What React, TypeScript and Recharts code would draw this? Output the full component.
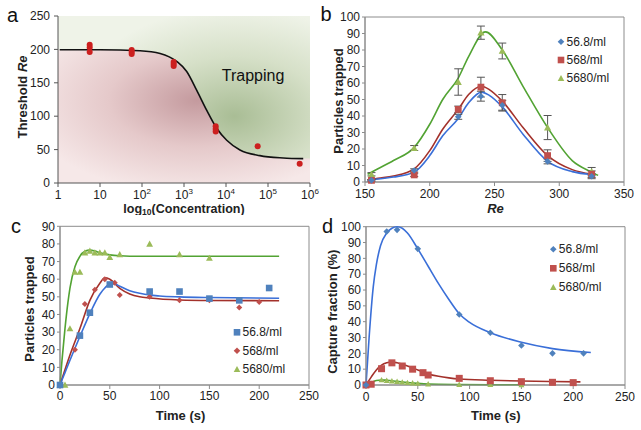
import {
  ComposedChart,
  Line,
  Area,
  Scatter,
  XAxis,
  YAxis,
  ReferenceArea,
  ErrorBar,
  CartesianGrid,
} from "recharts";

const FONT = "'Liberation Sans', Arial, sans-serif";
const BLUE = "#4f81bd";
const RED = "#c0504d";
const GREEN = "#9bbb59";
const BLUE_FIT = "#3a6fd8";
const RED_FIT = "#a3312b";
const GREEN_FIT = "#52a333";
const FRAME = "#8c8c8c";
const INK = "#222";

const legendLabels = ["56.8/ml", "568/ml", "5680/ml"];

// panel a: threshold Re vs concentration
const concA = [5.68, 5.68, 5.68, 56.8, 56.8, 56.8, 568, 568, 568, 5680, 5680, 5680, 56800, 568000];
const thresholdA = [207, 203, 196, 199, 196, 193, 181, 178, 175, 85, 81, 77, 55, 29];
const fitConcA = [1.1, 10, 90, 270, 670, 1160, 2000, 3460, 6000, 10400, 21500, 64000, 230000, 690000];
const fitReA = [199.5, 199.5, 198, 194, 182, 167, 139, 109, 82, 64, 49.5, 41, 37.5, 36.5];
const xTicksA = [1, 10, 100, 1000, 10000, 100000, 1000000];
const yTicksA = [0, 50, 100, 150, 200, 250];

// panel b: particles trapped vs Re
const reB = [155, 188, 222, 239.5, 256, 291, 325];
const blueB = [1, 7, 39.5, 52, 46.5, 12.5, 3.5];
const blueErrB = [0.5, 1, 1.5, 3, 3, 1.5, 1.5];
const redB = [1, 4.3, 44, 57.5, 48, 16, 4.7];
const redErrB = [0.5, 1, 2, 6, 5, 3.5, 2];
const greenB = [4.7, 20.6, 60.6, 90.5, 79.4, 33, 6.3];
const greenErrB = [1, 1.5, 8, 4, 4.8, 7.3, 2.5];
const fitReB = [152, 160, 172, 188, 200, 210, 222, 230, 240, 246, 256, 272, 291, 310, 325];
const blueFitB = [0.8, 1.8, 3, 6, 16, 28, 38.5, 48, 54.5, 52.5, 45.5, 29, 12.5, 6.3, 4.5];
const redFitB = [1.2, 2.2, 3.6, 8, 19, 32, 44, 53, 58, 56, 49, 33, 16, 7.5, 4.8];
const fitReGreenB = [152, 160, 172, 188, 200, 210, 222, 230, 243, 256, 272, 291, 310, 325, 330];
const greenFitB = [4.7, 8, 13, 21, 35, 50, 63, 76, 91, 80, 58, 33, 13, 6, 4];
const xTicksB = [150, 200, 250, 300, 350];
const yTicksB = [0, 10, 20, 30, 40, 50, 60, 70, 80, 90, 100];

// panel c: particles trapped vs time
const timeBlueC = [0, 20, 30, 50, 90, 120, 150, 180, 210];
const blueC = [0, 28, 41, 57, 53, 53, 49, 48, 55];
const timeRedC = [0, 15, 25, 35, 45, 55, 60, 90, 120, 150, 180, 200];
const redC = [0, 20, 46, 54, 60, 58, 51, 50, 48, 48, 44, 47];
const timeGreenC = [0, 5, 10, 15, 20, 25, 30, 35, 40, 45, 50, 60, 90, 120, 150];
const greenC = [0, 0, 32, 64, 64, 75, 76, 75, 75, 75, 72.5, 74, 80, 74, 72];
const fitTimeBlueC = [0, 5, 10, 20, 30, 40, 45, 50, 55, 60, 70, 80, 90, 100, 120, 150, 220];
const blueFitC = [0, 7, 14, 27.5, 40.5, 51.5, 55, 57.3, 57.3, 56, 53.5, 52, 51, 50.5, 50, 49.6, 49.2];
const fitTimeRedC = [0, 10, 20, 30, 40, 45, 50, 60, 70, 80, 90, 120, 150, 220];
const redFitC = [0, 17, 32, 48, 57.7, 60.8, 60, 54.8, 51.6, 50, 49.3, 48.2, 47.9, 47.8];
const fitTimeGreenC = [0, 2, 5, 8, 10, 15, 20, 25, 30, 35, 40, 50, 60, 80, 120, 220];
const greenFitC = [0, 14, 32, 47, 55, 67, 73, 75.8, 76.5, 76, 75, 73.8, 73.3, 73, 73, 73];
const xTicksTime = [0, 50, 100, 150, 200, 250];
const yTicksC = [0, 10, 20, 30, 40, 50, 60, 70, 80, 90];

// panel d: capture fraction vs time
const timeBlueD = [0, 20, 30, 50, 90, 120, 150, 180, 210];
const blueD = [0, 97, 98, 86, 44.5, 33, 25, 20, 20];
const timeRedD = [0, 5, 15, 25, 35, 45, 55, 60, 90, 120, 150, 180, 200];
const redD = [0, 0.5, 10.3, 14, 12, 10, 7.8, 6.3, 4.2, 2.7, 2.1, 1.7, 1.5];
const timeGreenD = [0, 5, 15, 20, 25, 30, 35, 40, 45, 50, 60, 90, 120, 150];
const greenD = [0, 0.5, 3.2, 2.8, 2.5, 2.2, 1.8, 1.5, 1.2, 1.0, 0.6, 0.3, 0.2, 0.1];
const fitTimeBlueD = [0, 3, 7, 10, 14, 20, 25, 30, 35, 40, 50, 60, 70, 80, 90, 100, 120, 150, 180, 217];
const blueFitD = [0, 30, 62, 76, 88, 96, 99, 100, 99, 96, 86, 75, 64, 54, 45, 39.5, 33, 27, 23, 20.5];
const fitTimeRedD = [0, 5, 10, 15, 20, 25, 30, 40, 50, 60, 70, 80, 90, 120, 150, 180, 207];
const redFitD = [0, 5, 9.5, 12.5, 14, 14.5, 14, 12, 9.5, 7, 5.5, 4.5, 3.8, 3, 2.5, 2.2, 2];
const fitTimeGreenD = [0, 5, 10, 15, 20, 30, 40, 50, 60, 90, 120, 150];
const greenFitD = [0, 1.5, 2.8, 3.2, 3, 2.3, 1.6, 1, 0.6, 0.3, 0.2, 0.2];
const yTicksD = [0, 10, 20, 30, 40, 50, 60, 70, 80, 90, 100];

const pts = (xs: number[], ys: number[], es?: number[]) =>
  xs.map((x, i) => ({ x, y: ys[i], e: es ? es[i] : 0 }));

function mark(kind: string, fill: string, s: number, cx: number, cy: number) {
  if (kind === "square")
    return <rect x={cx - s} y={cy - s} width={2 * s} height={2 * s} fill={fill} />;
  if (kind === "diamond")
    return (
      <polygon
        points={`${cx},${cy - s} ${cx + s},${cy} ${cx},${cy + s} ${cx - s},${cy}`}
        fill={fill}
      />
    );
  if (kind === "triangle")
    return (
      <polygon
        points={`${cx},${cy - s} ${cx + s},${cy + s * 0.8} ${cx - s},${cy + s * 0.8}`}
        fill={fill}
      />
    );
  return <circle cx={cx} cy={cy} r={s} fill={fill} />;
}

const shape = (kind: string, fill: string, s: number) => (p: any) =>
  mark(kind, fill, s, p.cx, p.cy);

const tickStyle = { fontSize: 12, fill: INK, fontFamily: FONT };

function Legend3({ x, y, kinds, gap }: { x: number; y: number; kinds: string[]; gap: number }) {
  const colors = [BLUE, RED, GREEN];
  return (
    <g>
      {legendLabels.map((lab, i) => (
        <g key={lab}>
          {mark(kinds[i], colors[i], 3.3, x, y + i * gap)}
          <text
            x={x + 5.5}
            y={y + i * gap}
            dominantBaseline="central"
            fontSize={12}
            fontFamily={FONT}
            fill={INK}
          >
            {lab}
          </text>
        </g>
      ))}
    </g>
  );
}

function YTitle({ x, y, children }: { x: number; y: number; children: any }) {
  return (
    <text
      x={x}
      y={y}
      transform={`rotate(-90, ${x}, ${y})`}
      textAnchor="middle"
      dominantBaseline="central"
      fontSize={13}
      fontWeight="bold"
      fontFamily={FONT}
      fill={INK}
    >
      {children}
    </text>
  );
}

function XTitle({ x, y, size = 13, children }: { x: number; y: number; size?: number; children: any }) {
  return (
    <text
      x={x}
      y={y}
      textAnchor="middle"
      dominantBaseline="central"
      fontSize={size}
      fontWeight="bold"
      fontFamily={FONT}
      fill={INK}
    >
      {children}
    </text>
  );
}

function PanelLetter({ x, y, t }: { x: number; y: number; t: string }) {
  return (
    <text x={x} y={y} fontSize={20} fontFamily={FONT} fill="#111">
      {t}
    </text>
  );
}

const DecadeTick = (p: any) => {
  const v = p.payload.value;
  const e = Math.round(Math.log10(v));
  return (
    <text x={p.x} y={p.y} dy={10} textAnchor="middle" fontSize={12} fill={INK} fontFamily={FONT}>
      {e < 2 ? String(v) : (
        <>
          10<tspan dy={-5} fontSize={8}>{e}</tspan>
        </>
      )}
    </text>
  );
};

function PanelA() {
  const dots = pts(concA, thresholdA);
  const fit = pts(fitConcA, fitReA);
  const shade = [{ x: 1, y: fitReA[0] }, ...fit, { x: 1000000, y: fitReA[fitReA.length - 1] }];
  return (
    <ComposedChart width={320} height={215} margin={{ top: 16, right: 10, bottom: 0, left: 0 }}>
      <defs>
        <radialGradient id="trapBg" cx="0.7" cy="0.6" r="0.65">
          <stop offset="0" stopColor="#a9bd95" />
          <stop offset="0.55" stopColor="#d6e0c8" />
          <stop offset="1" stopColor="#eff3e8" />
        </radialGradient>
        <radialGradient id="passBg" cx="0.55" cy="0.38" r="0.7">
          <stop offset="0" stopColor="#c49a9e" />
          <stop offset="0.5" stopColor="#e5c9ca" />
          <stop offset="1" stopColor="#f6e8e8" />
        </radialGradient>
      </defs>
      <CartesianGrid horizontal={false} vertical={false} fill="url(#trapBg)" />
      <XAxis
        dataKey="x"
        type="number"
        scale="log"
        domain={[1, 1000000]}
        ticks={xTicksA}
        interval={0}
        tick={DecadeTick}
        height={32}
        tickSize={4}
        tickMargin={2}
        axisLine={{ stroke: "#555" }}
        tickLine={{ stroke: "#555" }}
        allowDataOverflow
      />
      <YAxis
        type="number"
        domain={[0, 250]}
        ticks={yTicksA}
        interval={0}
        width={58}
        tick={tickStyle}
        tickSize={4}
        tickMargin={4}
        axisLine={{ stroke: "#555" }}
        tickLine={{ stroke: "#555" }}
      />
      <Area
        data={shade}
        dataKey="y"
        type="monotone"
        fill="url(#passBg)"
        fillOpacity={1}
        stroke="none"
        isAnimationActive={false}
      />
      <Line
        data={fit}
        dataKey="y"
        type="monotone"
        stroke="#111"
        strokeWidth={1.6}
        dot={false}
        isAnimationActive={false}
      />
      <Scatter data={dots} dataKey="y" shape={shape("circle", "#cc1f1f", 3)} isAnimationActive={false} />
      <text x={253} y={75} textAnchor="middle" dominantBaseline="central" fontSize={16} fontFamily={FONT} fill="#111">
        Trapping
      </text>
      <text x={123} y={124} textAnchor="middle" dominantBaseline="central" fontSize={16} fontFamily={FONT} fill="#111">
        Passing
      </text>
      <YTitle x={22} y={97}>
        Threshold <tspan fontStyle="italic">Re</tspan>
      </YTitle>
      <XTitle x={184} y={208.5} size={12.5}>
        log<tspan dy={3} fontSize={8.5}>10</tspan>
        <tspan dy={-3}>(Concentration)</tspan>
      </XTitle>
      <PanelLetter x={7} y={21.7} t="a" />
    </ComposedChart>
  );
}

function PanelB() {
  return (
    <ComposedChart width={321} height={215} margin={{ top: 17, right: 17, bottom: 0, left: 0 }}>
      <XAxis
        dataKey="x"
        type="number"
        domain={[150, 350]}
        ticks={xTicksB}
        interval={0}
        height={33}
        tick={tickStyle}
        tickSize={4}
        tickMargin={3}
        axisLine={{ stroke: FRAME }}
        tickLine={{ stroke: FRAME }}
      />
      <YAxis
        type="number"
        domain={[0, 100]}
        ticks={yTicksB}
        interval={0}
        width={45}
        tick={tickStyle}
        tickSize={3}
        tickMargin={2}
        axisLine={{ stroke: FRAME }}
        tickLine={{ stroke: FRAME }}
      />
      <ReferenceArea x1={150} x2={350} y1={0} y2={100} fill="none" stroke={FRAME} />
      <Line data={pts(fitReGreenB, greenFitB)} dataKey="y" type="monotone" stroke={GREEN_FIT} strokeWidth={1.6} dot={false} isAnimationActive={false} />
      <Line data={pts(fitReB, redFitB)} dataKey="y" type="monotone" stroke={RED_FIT} strokeWidth={1.6} dot={false} isAnimationActive={false} />
      <Line data={pts(fitReB, blueFitB)} dataKey="y" type="monotone" stroke={BLUE_FIT} strokeWidth={1.6} dot={false} isAnimationActive={false} />
      <Scatter data={pts(reB, greenB, greenErrB)} dataKey="y" shape={shape("triangle", GREEN, 3.6)} isAnimationActive={false}>
        <ErrorBar dataKey="e" direction="y" width={4} stroke="#555" strokeWidth={1} />
      </Scatter>
      <Scatter data={pts(reB, redB, redErrB)} dataKey="y" shape={shape("square", RED, 3.4)} isAnimationActive={false}>
        <ErrorBar dataKey="e" direction="y" width={4} stroke="#555" strokeWidth={1} />
      </Scatter>
      <Scatter data={pts(reB, blueB, blueErrB)} dataKey="y" shape={shape("diamond", BLUE, 3.3)} isAnimationActive={false}>
        <ErrorBar dataKey="e" direction="y" width={4} stroke="#555" strokeWidth={1} />
      </Scatter>
      <Legend3 x={241} y={41.7} kinds={["diamond", "square", "triangle"]} gap={18.3} />
      <YTitle x={18} y={101}>Particles trapped</YTitle>
      <XTitle x={175.5} y={207.5}>
        <tspan fontStyle="italic">Re</tspan>
      </XTitle>
      <PanelLetter x={0.5} y={20.7} t="b" />
    </ComposedChart>
  );
}

function PanelC() {
  return (
    <ComposedChart width={320} height={215} margin={{ top: 11.3, right: 11, bottom: 0, left: 0 }}>
      <XAxis
        dataKey="x"
        type="number"
        domain={[0, 250]}
        ticks={xTicksTime}
        interval={0}
        height={45}
        tick={tickStyle}
        tickSize={4}
        tickMargin={2}
        axisLine={{ stroke: FRAME }}
        tickLine={{ stroke: FRAME }}
      />
      <YAxis
        type="number"
        domain={[0, 90]}
        ticks={yTicksC}
        interval={0}
        width={60}
        tick={tickStyle}
        tickSize={3}
        tickMargin={2}
        axisLine={{ stroke: FRAME }}
        tickLine={{ stroke: FRAME }}
      />
      <ReferenceArea x1={0} x2={250} y1={0} y2={90} fill="none" stroke={FRAME} />
      <Line data={pts(fitTimeGreenC, greenFitC)} dataKey="y" type="monotone" stroke={GREEN_FIT} strokeWidth={1.6} dot={false} isAnimationActive={false} />
      <Line data={pts(fitTimeRedC, redFitC)} dataKey="y" type="monotone" stroke={RED_FIT} strokeWidth={1.6} dot={false} isAnimationActive={false} />
      <Line data={pts(fitTimeBlueC, blueFitC)} dataKey="y" type="monotone" stroke={BLUE_FIT} strokeWidth={1.6} dot={false} isAnimationActive={false} />
      <Scatter data={pts(timeGreenC, greenC)} dataKey="y" shape={shape("triangle", GREEN, 3.4)} isAnimationActive={false} />
      <Scatter data={pts(timeRedC, redC)} dataKey="y" shape={shape("diamond", RED, 3)} isAnimationActive={false} />
      <Scatter data={pts(timeBlueC, blueC)} dataKey="y" shape={shape("square", BLUE, 3.3)} isAnimationActive={false} />
      <Legend3 x={237} y={117.3} kinds={["square", "diamond", "triangle"]} gap={18.5} />
      <YTitle x={29} y={94}>Particles trapped</YTitle>
      <XTitle x={180.5} y={200}>Time (s)</XTitle>
      <PanelLetter x={11} y={18.3} t="c" />
    </ComposedChart>
  );
}

function PanelD() {
  return (
    <ComposedChart width={321} height={215} margin={{ top: 11.7, right: 16, bottom: 0, left: 0 }}>
      <XAxis
        dataKey="x"
        type="number"
        domain={[0, 250]}
        ticks={xTicksTime}
        interval={0}
        height={45}
        tick={tickStyle}
        tickSize={4}
        tickMargin={3}
        axisLine={{ stroke: FRAME }}
        tickLine={{ stroke: FRAME }}
      />
      <YAxis
        type="number"
        domain={[0, 100]}
        ticks={yTicksD}
        interval={0}
        width={46}
        tick={tickStyle}
        tickSize={3}
        tickMargin={2}
        axisLine={{ stroke: FRAME }}
        tickLine={{ stroke: FRAME }}
      />
      <ReferenceArea x1={0} x2={250} y1={0} y2={100} fill="none" stroke={FRAME} />
      <Line data={pts(fitTimeGreenD, greenFitD)} dataKey="y" type="monotone" stroke={GREEN_FIT} strokeWidth={1.6} dot={false} isAnimationActive={false} />
      <Line data={pts(fitTimeRedD, redFitD)} dataKey="y" type="monotone" stroke={RED_FIT} strokeWidth={1.6} dot={false} isAnimationActive={false} />
      <Line data={pts(fitTimeBlueD, blueFitD)} dataKey="y" type="monotone" stroke={BLUE_FIT} strokeWidth={1.6} dot={false} isAnimationActive={false} />
      <Scatter data={pts(timeGreenD, greenD)} dataKey="y" shape={shape("triangle", GREEN, 3)} isAnimationActive={false} />
      <Scatter data={pts(timeRedD, redD)} dataKey="y" shape={shape("square", RED, 3.5)} isAnimationActive={false} />
      <Scatter data={pts(timeBlueD, blueD)} dataKey="y" shape={shape("diamond", BLUE, 3.3)} isAnimationActive={false} />
      <Legend3 x={233.3} y={34.3} kinds={["diamond", "square", "triangle"]} gap={19} />
      <YTitle x={12.5} y={96.7}>Capture fraction (%)</YTitle>
      <XTitle x={175.8} y={200}>Time (s)</XTitle>
      <PanelLetter x={2} y={18.3} t="d" />
    </ComposedChart>
  );
}

export default function App() {
  return (
    <div style={{ position: "absolute", left: 0, top: 0, width: 641, height: 430, background: "#fff", fontFamily: FONT }}>
      <div style={{ position: "absolute", left: 0, top: 0 }}>
        <PanelA />
      </div>
      <div style={{ position: "absolute", left: 320, top: 0 }}>
        <PanelB />
      </div>
      <div style={{ position: "absolute", left: 0, top: 215 }}>
        <PanelC />
      </div>
      <div style={{ position: "absolute", left: 320, top: 215 }}>
        <PanelD />
      </div>
    </div>
  );
}
